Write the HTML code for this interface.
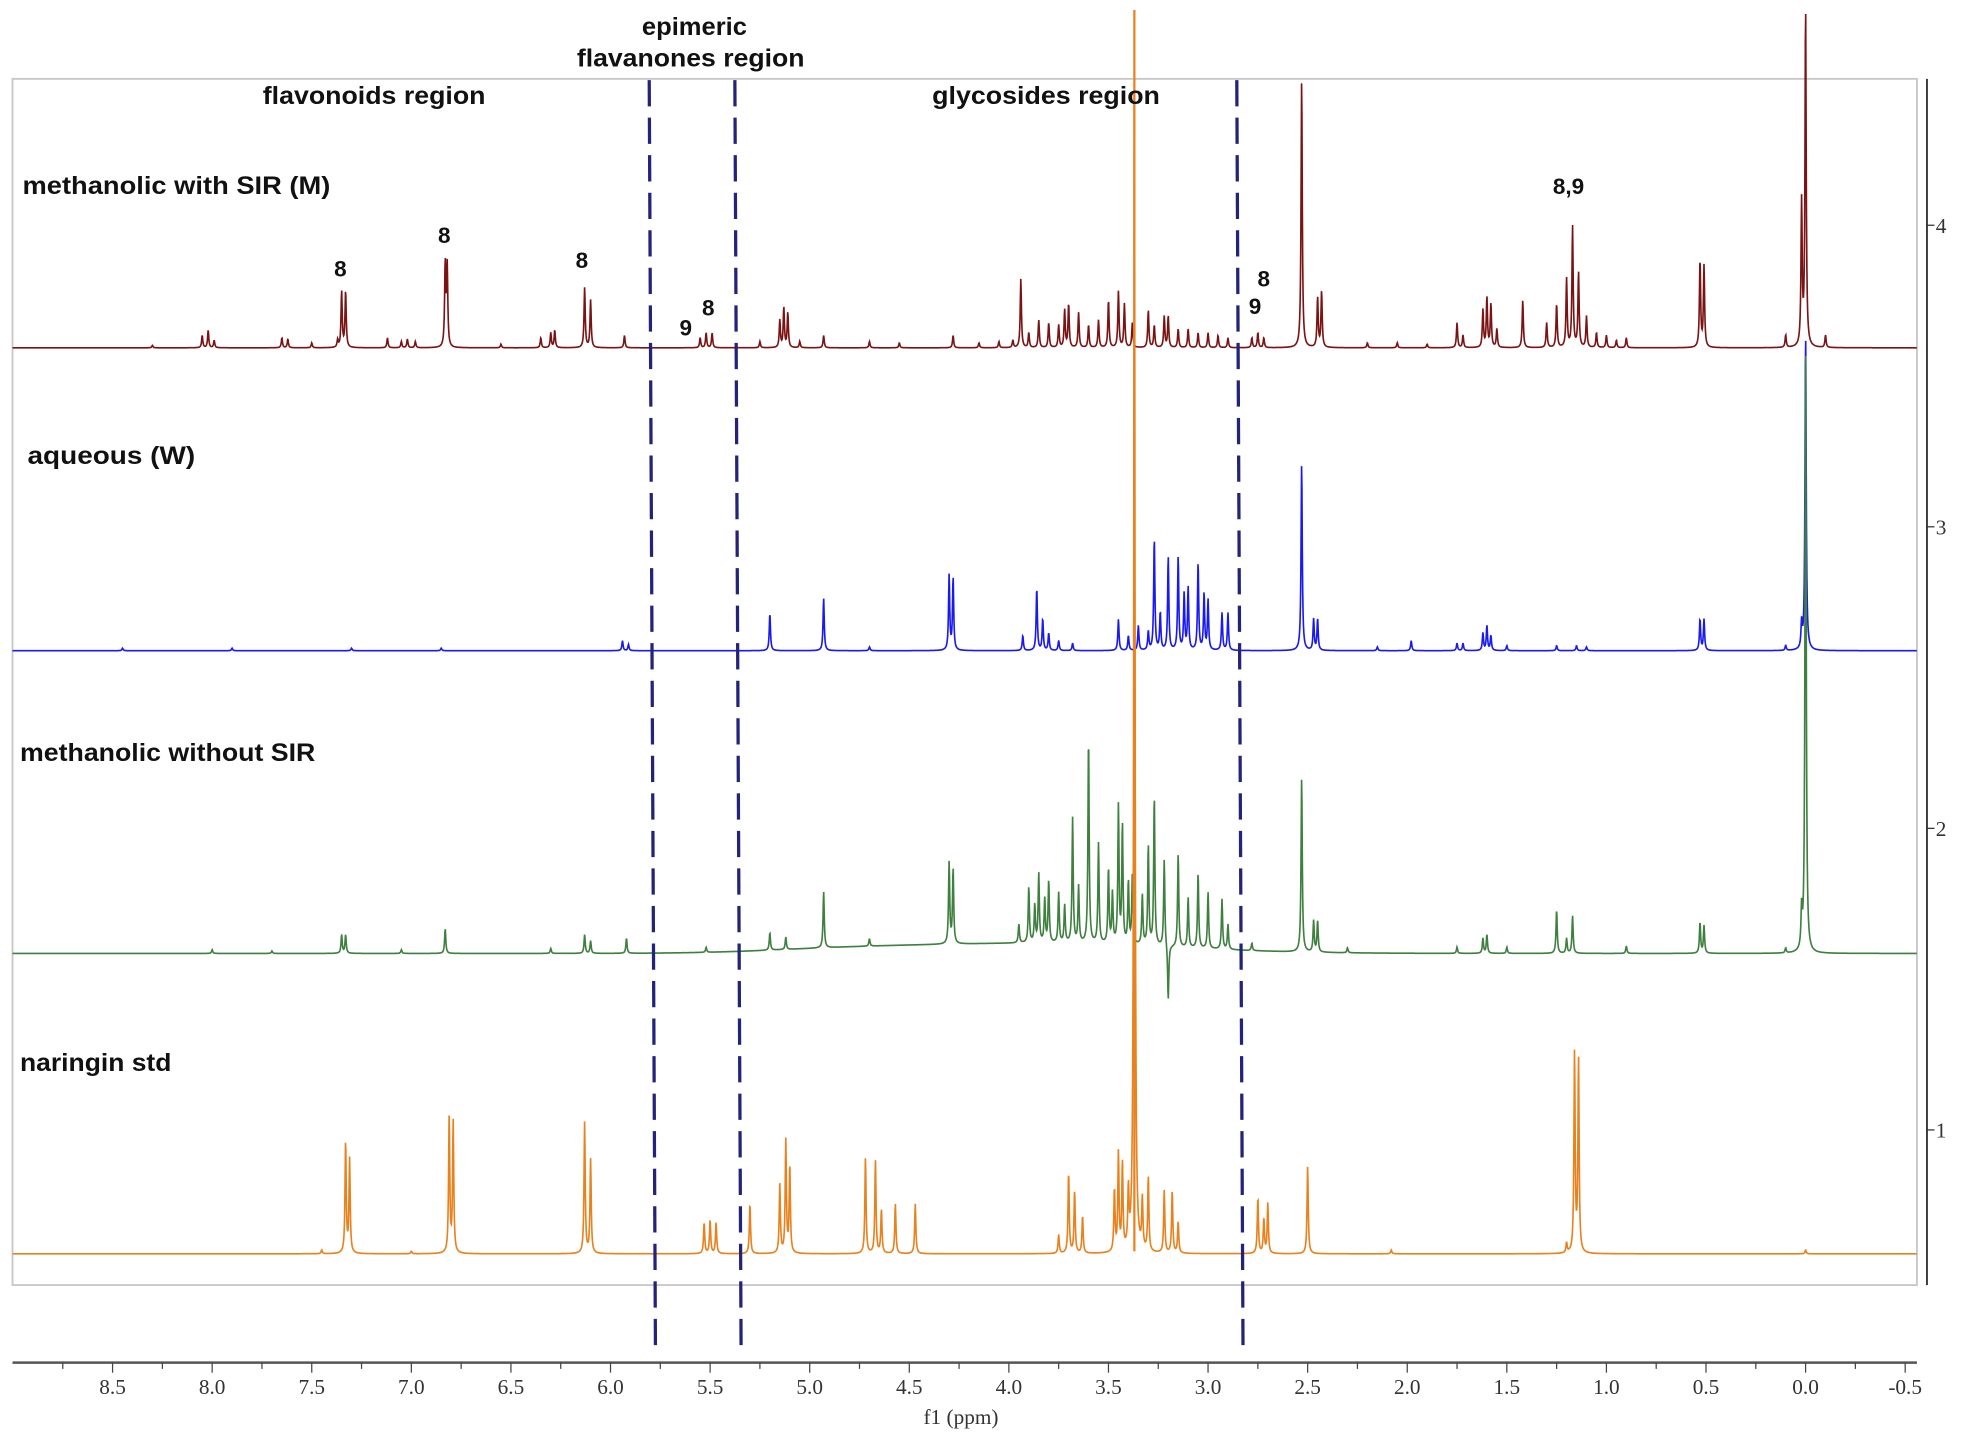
<!DOCTYPE html>
<html><head><meta charset="utf-8"><style>
html,body{margin:0;padding:0;background:#fff;width:1962px;height:1439px;overflow:hidden}
svg{display:block}
.lab{font-family:"Liberation Sans Narrow","Liberation Sans",Arial,sans-serif;font-weight:bold;font-size:20px;fill:#111}
.ann{font-family:"Liberation Sans Narrow","Liberation Sans",Arial,sans-serif;font-weight:bold;font-size:18px;fill:#111}
.tick{font-family:"Liberation Serif","DejaVu Serif",serif;font-size:17px;fill:#333}
</style></head><body>
<svg id="chart" width="1962" height="1439" viewBox="0 0 1568 1150" xmlns="http://www.w3.org/2000/svg">
<rect x="10" y="63" width="1522" height="964" fill="none" stroke="#c8c8c8" stroke-width="1.5"/>
<g id="spectra"></g>
<g id="overlay"></g>
<text class="lab" x="210" y="83" textLength="178" lengthAdjust="spacingAndGlyphs">flavonoids region</text>
<text class="lab" x="555" y="28" text-anchor="middle" textLength="84" lengthAdjust="spacingAndGlyphs">epimeric</text>
<text class="lab" x="552" y="53" text-anchor="middle" textLength="182" lengthAdjust="spacingAndGlyphs">flavanones region</text>
<text class="lab" x="745" y="83" textLength="182" lengthAdjust="spacingAndGlyphs">glycosides region</text>
<text class="lab" x="18" y="155" textLength="246" lengthAdjust="spacingAndGlyphs">methanolic  with SIR (M)</text>
<text class="lab" x="22" y="371" textLength="134" lengthAdjust="spacingAndGlyphs">aqueous  (W)</text>
<text class="lab" x="16" y="608" textLength="236" lengthAdjust="spacingAndGlyphs">methanolic without SIR</text>
<text class="lab" x="16" y="856" textLength="121" lengthAdjust="spacingAndGlyphs">naringin std</text>
<text class="ann" x="267" y="221">8</text>
<text class="ann" x="350" y="194">8</text>
<text class="ann" x="460" y="214">8</text>
<text class="ann" x="543" y="268">9</text>
<text class="ann" x="561" y="252">8</text>
<text class="ann" x="1005" y="229">8</text>
<text class="ann" x="998" y="251">9</text>
<text class="ann" x="1241" y="155">8,9</text>
<g id="xaxis"></g>
<text class="tick" x="768" y="1138" text-anchor="middle">f1 (ppm)</text>
<g id="yaxis"></g>
</svg>
<script>
const xTicks=[8.5,8.0,7.5,7.0,6.5,6.0,5.5,5.0,4.5,4.0,3.5,3.0,2.5,2.0,1.5,1.0,0.5,0.0,-0.5];
const yTickLabels=["1","2","3","4"];
const dashedPpm=[5.79,5.36,2.84];
// peaks: [ppm, intensity]
const peaksM=[[8.3,2],[8.05,10],[8.02,14],[7.99,6],[7.65,8],[7.62,7],[7.5,4],[7.37,6],[7.35,45],[7.33,45],[7.12,8],[7.05,5],[7.02,7],[6.98,5],[6.83,66],[6.82,64],[6.55,3],[6.35,8],[6.3,12],[6.28,14],[6.13,48],[6.10,38],[5.93,10],[5.55,8],[5.52,12],[5.49,12],[5.25,5],[5.15,22],[5.13,32],[5.11,28],[5.05,5],[4.93,10],[4.7,5],[4.55,4],[4.28,10],[4.15,4],[4.05,5],[3.98,6],[3.94,55],[3.9,12],[3.85,22],[3.8,20],[3.75,18],[3.72,30],[3.7,35],[3.65,28],[3.6,18],[3.55,22],[3.5,38],[3.45,45],[3.42,35],[3.38,20],[3.3,30],[3.27,18],[3.22,25],[3.2,25],[3.15,15],[3.1,15],[3.05,12],[3.0,12],[2.95,10],[2.9,8],[2.78,8],[2.75,12],[2.72,8],[2.53,215],[2.45,40],[2.43,45],[2.2,4],[2.05,4],[1.9,3],[1.75,20],[1.72,10],[1.62,30],[1.6,40],[1.58,35],[1.55,15],[1.42,38],[1.3,20],[1.25,35],[1.2,55],[1.17,97],[1.14,60],[1.1,25],[1.05,12],[1.0,10],[0.95,6],[0.9,8],[0.53,70],[0.51,65],[0.1,10],[0.02,115],[0.0,272],[-0.1,10]];
const peaksW=[[8.45,2],[7.9,2],[7.3,2],[6.85,2],[5.94,8],[5.91,5],[5.2,30],[4.93,42],[4.7,3],[4.3,60],[4.28,58],[3.93,12],[3.86,50],[3.83,25],[3.8,14],[3.75,8],[3.68,6],[3.45,25],[3.4,12],[3.35,20],[3.3,15],[3.27,90],[3.24,30],[3.2,75],[3.15,75],[3.12,45],[3.1,50],[3.05,70],[3.02,45],[3.0,40],[2.93,30],[2.9,30],[2.53,150],[2.47,25],[2.45,25],[2.15,3],[1.98,8],[1.75,6],[1.72,6],[1.62,14],[1.6,20],[1.58,12],[1.5,4],[1.25,4],[1.15,4],[1.1,3],[0.53,25],[0.51,25],[0.1,4],[0.02,20],[0.0,255]];
const peaksG=[[8.0,3],[7.7,2],[7.35,15],[7.33,15],[7.05,3],[6.83,20],[6.3,4],[6.13,15],[6.1,10],[5.92,12],[5.52,4],[5.2,14],[5.12,10],[4.93,45],[4.7,6],[4.3,65],[4.28,60],[3.95,15],[3.9,45],[3.87,30],[3.85,55],[3.82,35],[3.8,50],[3.75,40],[3.72,30],[3.68,100],[3.65,45],[3.6,165],[3.55,80],[3.5,60],[3.48,40],[3.45,110],[3.43,95],[3.4,50],[3.38,55],[3.33,40],[3.3,80],[3.27,120],[3.22,70],[3.2,-45],[3.15,75],[3.1,40],[3.05,60],[3.0,45],[2.93,40],[2.9,20],[2.78,6],[2.53,140],[2.47,25],[2.45,25],[2.3,4],[1.75,5],[1.62,12],[1.6,15],[1.5,5],[1.25,35],[1.2,12],[1.17,30],[0.9,6],[0.53,25],[0.51,22],[0.1,4],[0.02,30],[0.0,492]];
const peaksN=[[7.45,3],[7.33,90],[7.31,75],[7.0,2],[6.81,110],[6.79,105],[6.13,105],[6.1,75],[5.53,25],[5.5,27],[5.47,25],[5.3,40],[5.15,55],[5.12,90],[5.1,70],[4.72,77],[4.67,75],[4.64,35],[4.57,40],[4.47,40],[3.75,15],[3.7,65],[3.67,50],[3.63,30],[3.47,50],[3.45,78],[3.43,70],[3.4,45],[3.37,1000],[3.33,40],[3.3,60],[3.22,50],[3.18,50],[3.15,25],[2.75,45],[2.72,28],[2.7,40],[2.5,70],[2.08,3],[1.2,8],[1.16,160],[1.14,155],[0.0,3]];
const series=[{name:"spectrum-methanolic-sir",peaks:peaksM,base:278,color:"#7a1414",hump:[]},
{name:"spectrum-aqueous",peaks:peaksW,base:520,color:"#1a1aee",hump:[]},
{name:"spectrum-methanolic-no-sir",peaks:peaksG,base:762,color:"#3f7f3f",hump:[[3.8,8,0.9],[4.8,3,0.6]]},
{name:"spectrum-naringin-std",peaks:peaksN,base:1002,color:"#e8821e",hump:[]}];
const NS="http://www.w3.org/2000/svg";
const xS=p=>1443-159.18*p;
const XL=10,XR=1532;
const sp=document.getElementById('spectra');
series.forEach(s=>{
  let d="";
  const w=0.0035;
  for(let x=XL;x<=XR;x+=0.3){
    const p=(1443-x)/159.18;
    let v=0;
    for(const [c,h] of s.peaks){const t=(p-c)/w;v+=h/(1+t*t);}
    for(const [c,h,ww] of s.hump){const t=(p-c)/ww;v+=h*Math.exp(-t*t);}
    let y=s.base-v; if(y<8)y=8;
    d+=(d?"L":"M")+x.toFixed(1)+" "+y.toFixed(1);
  }
  const path=document.createElementNS(NS,'path');
  path.setAttribute('d',d);path.setAttribute('fill','none');path.setAttribute('stroke',s.color);path.setAttribute('stroke-width','1.3');
  
  
  sp.appendChild(path);
});
const ov=document.getElementById('overlay');
const rl=document.createElementNS(NS,'line');
rl.setAttribute('x1',xS(3.37));rl.setAttribute('x2',xS(3.37));rl.setAttribute('y1',8);rl.setAttribute('y2',1000);
rl.setAttribute('stroke','#e8821e');rl.setAttribute('stroke-width','1.8');


ov.appendChild(rl);
dashedPpm.forEach(p=>{
  const l=document.createElementNS(NS,'line');
  const x=xS(p);
  l.setAttribute('x1',x-2.5);l.setAttribute('x2',x+2.5);l.setAttribute('y1',64);l.setAttribute('y2',1083);
  l.setAttribute('stroke','#23237a');l.setAttribute('stroke-width','2.6');l.setAttribute('stroke-dasharray','21 9');
  
  
  ov.appendChild(l);
});
const xa=document.getElementById('xaxis');
const al=document.createElementNS(NS,'line');
al.setAttribute('x1',10);al.setAttribute('x2',1532);al.setAttribute('y1',1089);al.setAttribute('y2',1089);
al.setAttribute('stroke','#555');al.setAttribute('stroke-width','2');


xa.appendChild(al);
for(let p=8.75;p>=-0.5;p-=0.25){
  const major=Math.abs(p*2-Math.round(p*2))<1e-6;
  const t=document.createElementNS(NS,'line');
  t.setAttribute('x1',xS(p));t.setAttribute('x2',xS(p));t.setAttribute('y1',1089);t.setAttribute('y2',major?1097:1094);
  t.setAttribute('stroke','#444');t.setAttribute('stroke-width','1');
  
  
  xa.appendChild(t);
}
xTicks.forEach(p=>{
  const tx=document.createElementNS(NS,'text');
  tx.setAttribute('x',xS(p));tx.setAttribute('y',1114);tx.setAttribute('text-anchor','middle');tx.setAttribute('class','tick');
  tx.textContent=p.toFixed(1);
  
  
  xa.appendChild(tx);
});
const ya=document.getElementById('yaxis');
const yl=document.createElementNS(NS,'line');
yl.setAttribute('x1',1540);yl.setAttribute('x2',1540);yl.setAttribute('y1',63);yl.setAttribute('y2',1027);
yl.setAttribute('stroke','#333');yl.setAttribute('stroke-width','1.5');


ya.appendChild(yl);
yTickLabels.forEach((lab,i)=>{
  const y=903-i*241;
  const t=document.createElementNS(NS,'line');
  t.setAttribute('x1',1540);t.setAttribute('x2',1546);t.setAttribute('y1',y);t.setAttribute('y2',y);t.setAttribute('stroke','#333');
  
  
  ya.appendChild(t);
  const tx=document.createElementNS(NS,'text');
  tx.setAttribute('x',1547);tx.setAttribute('y',y+6);tx.setAttribute('class','tick');
  tx.textContent=lab;
  
  
  ya.appendChild(tx);
});
</script>
</body></html>
